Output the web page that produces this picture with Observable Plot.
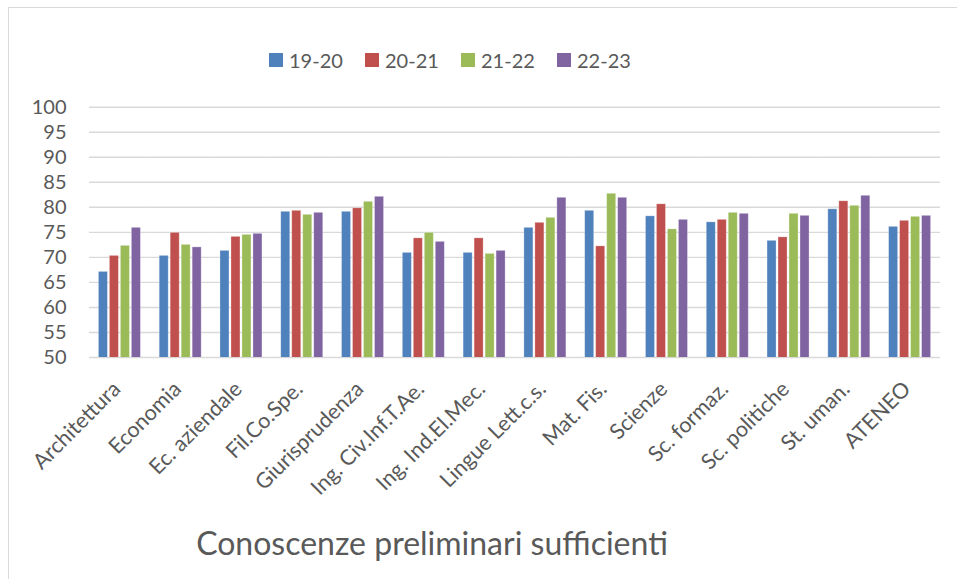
<!DOCTYPE html>
<html><head><meta charset="utf-8">
<script src="https://cdn.jsdelivr.net/npm/d3@7"></script>
<script src="https://cdn.jsdelivr.net/npm/@observablehq/plot@0.6"></script>
<style>
body{margin:0;background:#fff;font-family:Lato,sans-serif;}
#wrap{position:relative;width:957px;height:579px;overflow:hidden;background:#fff;}
#frame{position:absolute;left:8px;top:7px;width:960px;height:600px;border-top:1.5px solid #d9d9d9;border-left:1.5px solid #d9d9d9;}
#legend{position:absolute;top:48px;left:269px;display:flex;color:#595959;font-size:20px;}
.item{display:flex;align-items:center;width:96px;}
.sw{width:14px;height:14px;margin-right:6px;}
#chart{position:absolute;top:90px;left:0;}
#title{position:absolute;top:523px;left:0;width:864px;text-align:center;color:#595959;font-size:32px;}
</style></head>
<body><div id="wrap"><div id="frame"></div><div id="legend"></div><div id="chart"></div><div id="title">Conoscenze preliminari sufficienti</div></div>
<script>
const categories = ["Architettura","Economia","Ec. aziendale","Fil.Co.Spe.","Giurisprudenza","Ing. Civ.Inf.T.Ae.","Ing. Ind.El.Mec.","Lingue Lett.c.s.","Mat. Fis.","Scienze","Sc. formaz.","Sc. politiche","St. uman.","ATENEO"];
const series = ["19-20","20-21","21-22","22-23"];
const v1920 = [67.1,70.3,71.3,79.1,79.1,70.9,70.9,75.9,79.3,78.2,77.0,73.3,79.6,76.1];
const v2021 = [70.3,74.9,74.1,79.3,79.8,73.8,73.8,76.9,72.2,80.6,77.5,74.0,81.2,77.3];
const v2122 = [72.3,72.5,74.5,78.5,81.1,74.9,70.7,77.9,82.7,75.6,78.9,78.7,80.3,78.1];
const v2223 = [75.9,72.0,74.7,78.9,82.1,73.1,71.3,81.9,81.9,77.5,78.7,78.3,82.3,78.3];
const yTicks = [50,55,60,65,70,75,80,85,90,95,100];
const colors = ["#4F81BD","#C0504D","#9BBB59","#8064A2"];

const values = [v1920, v2021, v2122, v2223];
const rows = [];
categories.forEach((c, i) => series.forEach((s, j) => rows.push({cat: c, series: s, value: values[j][i]})));

const legend = document.getElementById("legend");
series.forEach((s, j) => {
  const it = document.createElement("div"); it.className = "item";
  it.innerHTML = `<div class="sw" style="background:${colors[j]}"></div><span>${s}</span>`;
  legend.appendChild(it);
});

const chart = Plot.plot({
  width: 957, height: 410,
  marginLeft: 89, marginRight: 17, marginTop: 16.7, marginBottom: 143,
  style: {fontFamily: "Lato, sans-serif", fontSize: "20px", color: "#595959", background: "transparent"},
  fx: {domain: categories, padding: 0, round: false, label: null, axis: null},
  x: {domain: series, paddingInner: 0.18, paddingOuter: 0.855, round: false, axis: null},
  y: {domain: [50, 100], ticks: yTicks, tickSize: 0, tickPadding: 23, label: null},
  color: {domain: series, range: colors},
  marks: [
    Plot.ruleY(yTicks, {stroke: "#d9d9d9", strokeWidth: 1.4}),
    Plot.barY(rows, {fx: "cat", x: "series", y: "value", fill: "series", stroke: "white", strokeOpacity: 0.35, strokeWidth: 0.8, clip: true}),
    Plot.axisFx({anchor: "bottom", tickRotate: -45, tickSize: 0, tickPadding: 6, fontSize: 21.5, label: null, dx: -3, dy: 22})
  ]
});
document.getElementById("chart").appendChild(chart);
</script></body></html>
